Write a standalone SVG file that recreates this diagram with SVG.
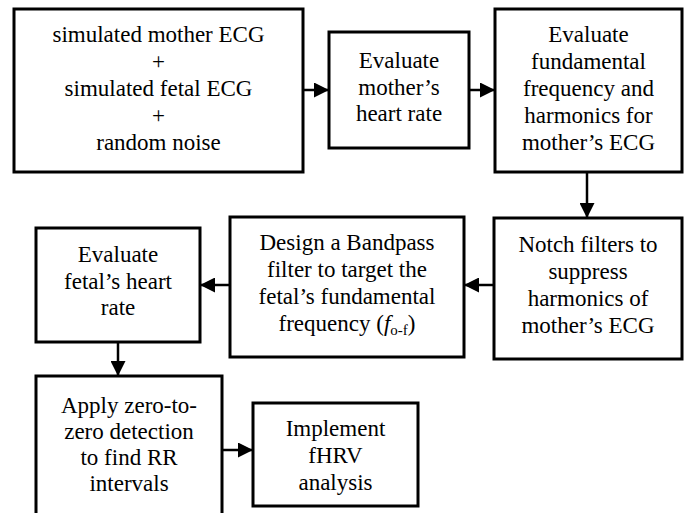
<svg xmlns="http://www.w3.org/2000/svg" width="687" height="513" viewBox="0 0 687 513">
<defs>
<style>
.box{fill:#fff;stroke:#000;stroke-width:3}
.t{font-family:"Liberation Serif","Times New Roman",serif;font-size:23px;fill:#000;text-anchor:middle}
.c{stroke:#000;stroke-width:2.5;fill:none;marker-end:url(#ah)}
</style>
<marker id="ah" viewBox="0 0 10 10" refX="10" refY="5" markerWidth="15" markerHeight="15" markerUnits="userSpaceOnUse" orient="auto" preserveAspectRatio="none">
<path d="M0,0 L10,5 L0,10 z" fill="#000"/>
</marker>
</defs>
<rect width="687" height="513" fill="#fff"/>
<g id="connectors">
<line class="c" x1="303" y1="90" x2="329" y2="90"/>
<line class="c" x1="469" y1="90" x2="495" y2="90"/>
<line class="c" x1="587" y1="172" x2="587" y2="218"/>
<line class="c" x1="494" y1="285" x2="464" y2="285"/>
<line class="c" x1="230" y1="285" x2="200" y2="285"/>
<line class="c" x1="118" y1="342" x2="118" y2="376"/>
<line class="c" x1="222" y1="450" x2="253" y2="450"/>
</g>
<g id="n1">
<rect class="box" x="14" y="9" width="289" height="163"/>
<text class="t" x="158.5" y="42">simulated mother ECG</text>
<text class="t" x="158.5" y="69">+</text>
<text class="t" x="158.5" y="96">simulated fetal ECG</text>
<text class="t" x="158.5" y="123">+</text>
<text class="t" x="158.5" y="150">random noise</text>
</g>
<g id="n2">
<rect class="box" x="329" y="32" width="140" height="116"/>
<text class="t" x="399" y="68">Evaluate</text>
<text class="t" x="399" y="95">mother’s</text>
<text class="t" x="399" y="121">heart rate</text>
</g>
<g id="n3">
<rect class="box" x="495" y="9" width="187" height="163"/>
<text class="t" x="588.5" y="42">Evaluate</text>
<text class="t" x="588.5" y="69">fundamental</text>
<text class="t" x="588.5" y="96">frequency and</text>
<text class="t" x="588.5" y="123">harmonics for</text>
<text class="t" x="588.5" y="150">mother’s ECG</text>
</g>
<g id="n4">
<rect class="box" x="494" y="218" width="188" height="141"/>
<text class="t" x="588" y="252">Notch filters to</text>
<text class="t" x="588" y="279">suppress</text>
<text class="t" x="588" y="306">harmonics of</text>
<text class="t" x="588" y="333">mother’s ECG</text>
</g>
<g id="n5">
<rect class="box" x="230" y="217" width="234" height="140"/>
<text class="t" x="347" y="250">Design a Bandpass</text>
<text class="t" x="347" y="277">filter to target the</text>
<text class="t" x="347" y="304">fetal’s fundamental</text>
<text class="t" x="347" y="331">frequency (<tspan font-style="italic">f</tspan><tspan font-size="15" dy="4">o-f</tspan><tspan dy="-4">)</tspan></text>
</g>
<g id="n6">
<rect class="box" x="36" y="228" width="164" height="114"/>
<text class="t" x="118" y="262">Evaluate</text>
<text class="t" x="118" y="289">fetal’s heart</text>
<text class="t" x="118" y="315">rate</text>
</g>
<g id="n7">
<rect class="box" x="36" y="376" width="186" height="150"/>
<text class="t" x="129" y="413">Apply zero-to-</text>
<text class="t" x="129" y="439">zero detection</text>
<text class="t" x="129" y="465">to find RR</text>
<text class="t" x="129" y="491">intervals</text>
</g>
<g id="n8">
<rect class="box" x="253" y="403" width="165" height="103"/>
<text class="t" x="335.5" y="436">Implement</text>
<text class="t" x="335.5" y="463">fHRV</text>
<text class="t" x="335.5" y="490">analysis</text>
</g>
</svg>
